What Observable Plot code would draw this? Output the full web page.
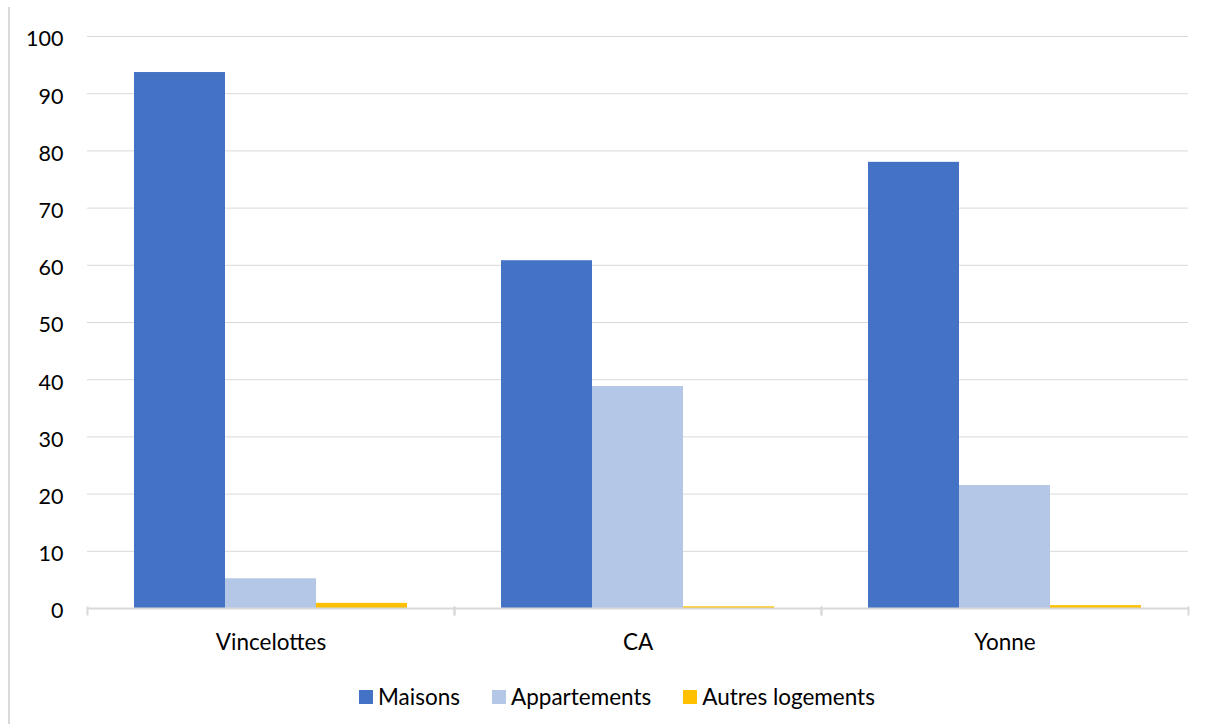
<!DOCTYPE html>
<html>
<head>
<meta charset="utf-8">
<script src="https://cdn.jsdelivr.net/npm/d3@7"></script>
<script src="https://cdn.jsdelivr.net/npm/@observablehq/plot@0.6"></script>
<style>
  html, body { margin: 0; padding: 0; background: #fff; }
  body { width: 1210px; height: 724px; position: relative; overflow: hidden; font-family: Lato, "Liberation Sans", sans-serif; }
  #border { position: absolute; left: 8px; top: 7px; bottom: 0; width: 2px; background: #d9d9d9; }
  #chart { position: absolute; left: 0; top: 0; }
  #legend { position: absolute; left: 0; top: 680px; width: 1210px; display: flex; justify-content: center; padding-left: 56px; box-sizing: border-box; font-family: Lato, sans-serif; font-size: 22.5px; color: #000; }
  .lg-swatch { margin-right: 32px !important; }
  .lg-swatch svg { margin-right: 5px !important; }
</style>
</head>
<body>
<div id="border"></div>
<div id="chart"></div>
<div id="legend"></div>
<script>
const categories = ["Vincelottes", "CA", "Yonne"];
const series = ["Maisons", "Appartements", "Autres logements"];
const maisons = [93.7, 60.8, 78.0];
const appartements = [5.2, 38.8, 21.5];
const autres = [0.9, 0.3, 0.5];
const colors = ["#4472C4", "#B4C7E7", "#FFC000"];
const yTicks = [0, 10, 20, 30, 40, 50, 60, 70, 80, 90, 100];

const valuesBySeries = [maisons, appartements, autres];
const data = categories.flatMap((c, i) =>
  series.map((s, j) => ({cat: c, serie: s, value: valuesBySeries[j][i]}))
);

const plot = Plot.plot({
  width: 1210,
  height: 665,
  marginLeft: 86,
  marginRight: 22,
  marginTop: 36,
  marginBottom: 57,
  style: {fontFamily: "Lato, sans-serif", fontSize: "21px", color: "#000", background: "transparent"},
  fx: {domain: categories, padding: 0, label: null},
  x: {domain: series, paddingInner: 0, paddingOuter: 0.5, axis: null},
  y: {domain: [0, 100], label: null},
  color: {domain: series, range: colors},
  marks: [
    Plot.gridY(yTicks, {stroke: "#d9d9d9", strokeOpacity: 1, strokeWidth: 1}),
    Plot.axisY(yTicks, {tickSize: 0, tickPadding: 24, fontSize: 21.5, dy: 3, label: null, tickFormat: d => String(d)}),
    Plot.barY(data, {fx: "cat", x: "serie", y: "value", fill: "serie"}),
    Plot.ruleY([0], {stroke: "#d9d9d9", strokeWidth: 2}),
    Plot.frame({anchor: "left", stroke: "#d9d9d9", strokeWidth: 2, insetTop: 571, insetBottom: -6}),
    Plot.frame({anchor: "right", stroke: "#d9d9d9", strokeWidth: 2, insetTop: 571, insetBottom: -6}),
    Plot.axisFx({anchor: "bottom", tickSize: 0, tickPadding: 26, fontSize: 22.5, label: null})
  ]
});
document.getElementById("chart").appendChild(plot);

const legend = Plot.legend({
  color: {domain: series, range: colors},
  legend: "swatches",
  swatchSize: 14,
  className: "lg",
  style: {fontFamily: "Lato, sans-serif", fontSize: "22.5px", color: "#000"}
});
document.getElementById("legend").appendChild(legend);
</script>
</body>
</html>
